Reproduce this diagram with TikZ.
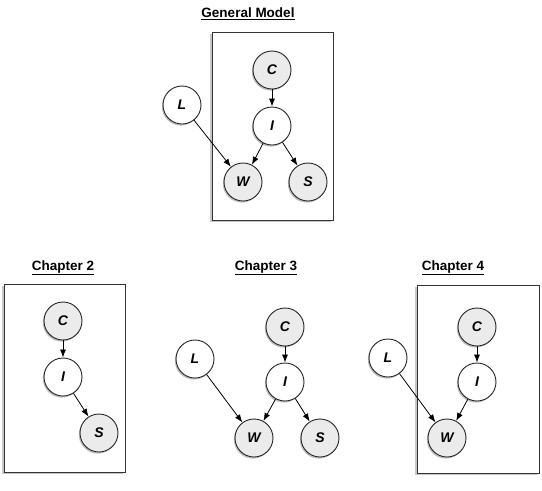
\documentclass[tikz,border=0pt]{standalone}
\usepackage{fontspec}
\setmainfont{Liberation Sans}
\usetikzlibrary{positioning,shadows,arrows.meta}

\tikzset{
  var/.style={circle, draw=black!85, line width=0.9pt, minimum size=38pt, inner sep=0pt, fill=white,
    font=\bfseries\itshape\fontsize{14}{14}\selectfont,
    drop shadow={shadow xshift=-1.2pt, shadow yshift=-1.6pt, opacity=0.5}},
  obs/.style={var, fill=black!8},
  plate/.style={draw=black!80, line width=1pt, fill=white, minimum width=121pt, minimum height=188pt,
    drop shadow={shadow xshift=-1.6pt, shadow yshift=-2.2pt, opacity=0.45}},
  heading/.style={font=\bfseries\fontsize{13.5}{15}\selectfont},
  edge/.style={-{Latex[length=8pt,width=6pt]}, line width=0.8pt}
}

\begin{document}
\begin{tikzpicture}[x=1pt, y=-1pt]
  \useasboundingbox (0,0) rectangle (542,491);

  % General Model
  \node (gtitle) [heading] at (248,14) {\underline{General Model}};
  \node (gplate) [plate] at (272.5,126) {};
  \node (gC) [obs] at (272,70) {C};
  \node (gI) [var] at (272,126) {I};
  \node (gW) [obs] at (243,182) {W};
  \node (gS) [obs] at (308,182) {S};
  \node (gL) [var] at (182,105) {L};
  \draw[edge] (gC) -- (gI);
  \draw[edge] (gI) -- (gW);
  \draw[edge] (gI) -- (gS);
  \draw[edge] (gL) -- (gW);

  % Chapter 2
  \node (atitle) [heading] at (63,268) {\underline{Chapter 2}};
  \node (aplate) [plate] at (64.5,378) {};
  \node (aC) [obs] at (63,321) {C};
  \node (aI) [var] at (63,377) {I};
  \node (aS) [obs] at (99,433) {S};
  \draw[edge] (aC) -- (aI);
  \draw[edge] (aI) -- (aS);

  % Chapter 3
  \node (btitle) [heading] at (266,268) {\underline{Chapter 3}};
  \node (bC) [obs] at (285,327) {C};
  \node (bI) [var] at (285,382) {I};
  \node (bW) [obs] at (254,438) {W};
  \node (bS) [obs] at (320,438) {S};
  \node (bL) [var] at (195,359) {L};
  \draw[edge] (bC) -- (bI);
  \draw[edge] (bI) -- (bW);
  \draw[edge] (bI) -- (bS);
  \draw[edge] (bL) -- (bW);

  % Chapter 4
  \node (ctitle) [heading] at (453,268) {\underline{Chapter 4}};
  \node (cplate) [plate, minimum width=122pt] at (478,379) {};
  \node (cC) [obs] at (477,327) {C};
  \node (cI) [var] at (477,382) {I};
  \node (cW) [obs] at (447,438) {W};
  \node (cL) [var] at (388,358) {L};
  \draw[edge] (cC) -- (cI);
  \draw[edge] (cI) -- (cW);
  \draw[edge] (cL) -- (cW);
\end{tikzpicture}
\end{document}
